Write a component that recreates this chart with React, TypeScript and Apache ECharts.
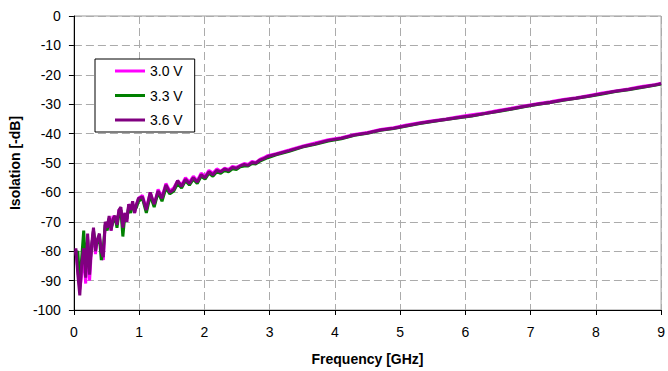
import React, { useEffect, useRef } from "react";
import * as echarts from "echarts";

const freqGHz: number[] = [
  0.03, 0.06, 0.09, 0.12, 0.15, 0.18, 0.21, 0.24, 0.27, 0.3, 0.33, 0.36, 0.39, 0.42, 0.45, 0.48, 0.51,
  0.54, 0.57, 0.6, 0.63, 0.66, 0.69, 0.72, 0.75, 0.78, 0.81, 0.84, 0.87, 0.9, 0.93, 0.96, 0.99,
  1.05, 1.11, 1.17, 1.23, 1.29, 1.35, 1.41, 1.47, 1.53, 1.59, 1.65, 1.71, 1.77, 1.83, 1.89, 1.95, 2.01,
  2.07, 2.13, 2.19, 2.25, 2.31, 2.37, 2.43, 2.49, 2.55, 2.61, 2.67, 2.73, 2.79, 2.85, 2.91, 2.97,
  3.1, 3.3, 3.5, 3.7, 3.9, 4.1, 4.3, 4.5, 4.7, 4.9, 5.1, 5.3, 5.5, 5.7, 5.9, 6.1, 6.3, 6.5, 6.7, 6.9,
  7.1, 7.3, 7.5, 7.7, 7.9, 8.1, 8.3, 8.5, 8.7, 8.9, 9.0,
];

const iso30V: number[] = [
  -80, -86, -93, -88, -80, -91, -75, -90, -79, -73, -81, -76, -75, -81, -83, -71, -72,
  -69, -73, -68, -69, -71, -66, -66, -72, -67, -70, -64, -66, -64, -67, -64, -62,
  -61, -65.5, -60, -64.5, -59, -61.5, -57, -59.5, -58.5, -56, -57.5, -55, -56.5, -54.5, -56, -53.5, -54.5,
  -52.5, -53.5, -52, -52.8, -51.8, -52.2, -51.2, -51.5, -50.8, -50.2, -50.5, -49.5, -49.8, -48.8, -48.2, -47.5,
  -46.8, -45.6, -44.3, -43.2, -42.1, -41.4, -40.3, -39.6, -38.6, -38.0, -37.1, -36.3, -35.6, -35.0, -34.3, -33.6, -33.0, -32.1, -31.4, -30.6,
  -29.8, -29.2, -28.4, -27.8, -27.0, -26.2, -25.5, -24.8, -24.0, -23.4, -22.9,
];

const iso33V: number[] = [
  -81, -80, -92, -82, -73, -86, -76, -85, -79, -73, -78, -77, -75, -83, -79, -71, -73,
  -69, -72, -70, -68, -72, -67, -66, -75, -68, -69, -65, -67, -64, -66, -65, -63,
  -62, -67, -61, -65, -60, -63, -58.5, -60.5, -59.5, -57, -58.5, -56, -57.5, -55.5, -57, -54.5, -55.5,
  -53.5, -54.5, -53, -53.5, -52.5, -53, -52, -52.2, -51.3, -51, -51, -50.2, -50.3, -49.4, -48.8, -48.2,
  -47.2, -46.0, -44.6, -43.6, -42.5, -41.8, -40.6, -39.9, -38.9, -38.3, -37.4, -36.6, -35.9, -35.2, -34.6, -34.0, -33.2, -32.5, -31.7, -30.9,
  -30.1, -29.4, -28.7, -28.0, -27.3, -26.5, -25.7, -25.1, -24.3, -23.6, -23.1,
];

const iso36V: number[] = [
  -79, -88, -95, -84, -79, -89, -74, -88, -78, -72, -80, -76, -74, -80, -82, -70, -72,
  -68, -73, -69, -68, -71, -66, -65, -72, -67, -70, -64, -66, -63, -67, -64, -62,
  -61.5, -66, -60, -64, -59.5, -62, -57.5, -60, -59, -56, -58, -55.5, -57, -55, -56.5, -54, -55,
  -53, -54, -52.5, -53, -52, -52.5, -51.5, -51.8, -51, -50.5, -50.8, -49.8, -50, -49, -48.5, -47.8,
  -47, -45.8, -44.5, -43.5, -42.3, -41.6, -40.5, -39.8, -38.8, -38.2, -37.3, -36.5, -35.8, -35.2, -34.5, -33.9, -33.2, -32.4, -31.6, -30.8,
  -30, -29.4, -28.6, -28, -27.2, -26.4, -25.6, -25, -24.2, -23.5, -23,
];

const seriesNames = ["3.0 V", "3.3 V", "3.6 V"];
const seriesColors = ["#FF00FF", "#008000", "#800080"];
const seriesValues = [iso30V, iso33V, iso36V];

const FONT = "'Liberation Sans', Arial, sans-serif";

export default function App() {
  const ref = useRef<HTMLDivElement>(null);
  useEffect(() => {
    document.body.style.margin = "0";
    if (!ref.current) return;
    const chart = echarts.init(ref.current, null, { renderer: "svg" });
    chart.setOption({
      animation: false,
      backgroundColor: "#ffffff",
      textStyle: { fontFamily: FONT },
      grid: {
        left: 73,
        top: 16,
        right: 6,
        bottom: 60,
        show: true,
        borderColor: "#999999",
        borderWidth: 1,
        backgroundColor: "transparent",
      },
      legend: {
        orient: "vertical",
        left: 95,
        top: 59,
        backgroundColor: "#ffffff",
        borderColor: "#000000",
        borderWidth: 1,
        borderRadius: 0,
        padding: [5, 12, 5, 20],
        icon: "rect",
        itemWidth: 30,
        itemHeight: 3,
        itemGap: 10.5,
        data: seriesNames,
        textStyle: { fontFamily: FONT, fontSize: 14, color: "#000" },
      },
      xAxis: {
        type: "value",
        min: 0,
        max: 9,
        interval: 1,
        name: "Frequency [GHz]",
        nameLocation: "middle",
        nameGap: 42,
        nameTextStyle: { fontFamily: FONT, fontSize: 14, fontWeight: "bold", color: "#000" },
        axisLine: { show: true, onZero: false, lineStyle: { color: "#000", width: 1 } },
        axisTick: { show: true, inside: false, length: 5, lineStyle: { color: "#000" } },
        axisLabel: { fontFamily: FONT, fontSize: 14, color: "#000", margin: 15 },
        splitLine: { show: true, lineStyle: { color: "#ababab", type: [8, 4], width: 1 } },
      },
      yAxis: {
        type: "value",
        min: -100,
        max: 0,
        interval: 10,
        name: "Isolation [-dB]",
        nameLocation: "middle",
        nameGap: 44,
        nameRotate: 90,
        nameTextStyle: { fontFamily: FONT, fontSize: 14, fontWeight: "bold", color: "#000" },
        axisLine: { show: true, onZero: false, lineStyle: { color: "#000", width: 1 } },
        axisTick: { show: true, inside: false, length: 5, lineStyle: { color: "#000" } },
        axisLabel: { fontFamily: FONT, fontSize: 14, color: "#000", margin: 13 },
        splitLine: { show: true, lineStyle: { color: "#ababab", type: [8, 4], width: 1 } },
      },
      series: seriesNames.map((name, i) => ({
        name,
        type: "line",
        symbol: "none",
        showSymbol: false,
        color: seriesColors[i],
        lineStyle: { color: seriesColors[i], width: 3 },
        data: freqGHz.map((f, j) => [f, seriesValues[i][j]]),
        z: 2 + i,
      })),
    });
    return () => chart.dispose();
  }, []);
  return <div ref={ref} style={{ width: 668, height: 371 }} />;
}
